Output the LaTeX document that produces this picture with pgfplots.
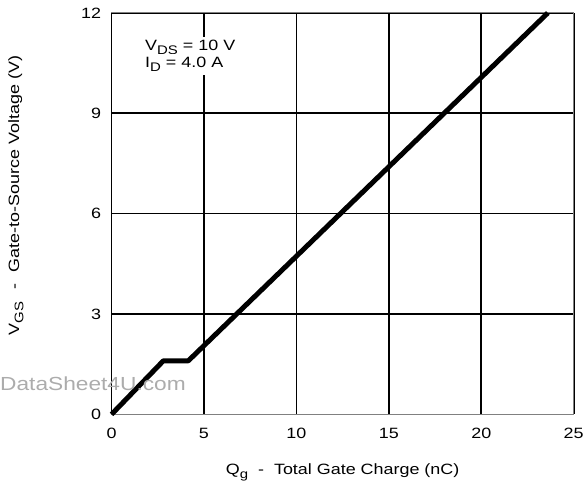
\documentclass[border=0pt]{standalone}
\usepackage{pgfplots}
\pgfplotsset{compat=1.18}
\usepackage{fontspec}
\setmainfont[FakeStretch=1.2]{Liberation Sans}
\newcommand{\sub}[1]{\raisebox{-0.28em}{\fontsize{12.5}{13}\selectfont #1}}
\begin{document}
\begin{tikzpicture}[x=1pt,y=1pt]
\begin{axis}[
  scale only axis,
  width=464pt, height=403pt,
  at={(0,0)}, anchor=south west,
  xmin=0, xmax=25, ymin=0, ymax=12,
  xtick={0,5,10,15,20,25},
  ytick={0,3,6,9,12},
  /pgf/number format/assume math mode=true,
  tick label style={font=\fontsize{15}{17}\selectfont},
  major tick length=0pt,
  xticklabel style={yshift=-10pt},
  yticklabel style={xshift=-7pt},
  grid=major,
  major grid style={black, line width=1.7pt},
  axis line style={gray, line width=1pt},
  xlabel={Q\sub{g}\hspace{10pt}-\hspace{10pt}Total Gate Charge (nC)},
  ylabel={V\sub{GS}\hspace{12pt}-\hspace{12pt}Gate-to-Source Voltage (V)},
  label style={font=\fontsize{15}{17}\selectfont},
  xlabel style={at={(axis description cs:0.5,-0.144)}, anchor=center},
  ylabel style={at={(axis description cs:-0.207,0.545)}, anchor=center, rotate=0},
  clip=false,
]
\draw[black, line width=1.7pt] (rel axis cs:0,0) -- (rel axis cs:0,1);
\addplot[black, line width=5pt, line join=round] coordinates {
(0,0) (2.8,1.6) (4.15,1.6) (23.6,12)
};
\node[fill=white, inner sep=3pt, anchor=base west, font=\fontsize{15}{17}\selectfont]
  at (axis cs:1.65,10.87) {V\sub{DS} = 10 V};
\node[fill=white, inner sep=3pt, anchor=base west, font=\fontsize{15}{17}\selectfont]
  at (axis cs:1.65,10.36) {I\sub{D} = 4.0 A};
\node[anchor=base west, text=gray!65, font=\fontsize{19}{21}\selectfont, inner sep=0pt]
  at ([xshift=-112pt, yshift=24pt]rel axis cs:0,0) {DataSheet4U.com};
\end{axis}
\useasboundingbox (-112pt,-72pt) rectangle (475pt,416pt);
\end{tikzpicture}
\end{document}
